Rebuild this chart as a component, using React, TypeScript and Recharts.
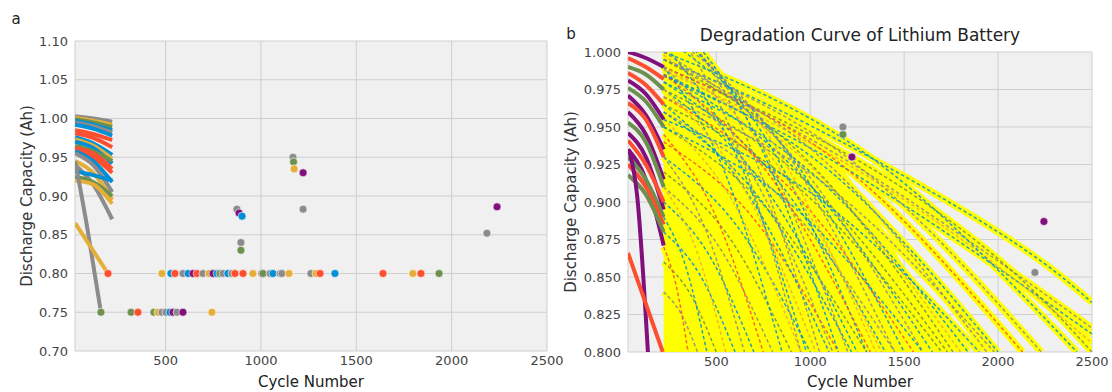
import { ComposedChart, Line, Scatter, Area, XAxis, YAxis, CartesianGrid } from 'recharts';

const COLORS: Record<string, string> = {
  b: '#008fd5',
  r: '#fc4f30',
  y: '#e5ae38',
  g: '#6d904f',
  k: '#8b8b8b',
  p: '#810f7c',
};

// ---- panel a: measured capacity over the first cycles ----
const earlyCyclesA = [26, 120, 220];
const earlyCapacityA = [
  [1.003, 1.0, 0.996],
  [1.001, 0.997, 0.992],
  [0.999, 0.995, 0.989],
  [0.997, 0.992, 0.985],
  [0.995, 0.99, 0.982],
  [0.992, 0.987, 0.978],
  [0.985, 0.98, 0.972],
  [0.981, 0.975, 0.963],
  [0.976, 0.968, 0.953],
  [0.973, 0.965, 0.948],
  [0.97, 0.962, 0.942],
  [0.965, 0.958, 0.945],
  [0.962, 0.955, 0.935],
  [0.958, 0.95, 0.93],
  [0.958, 0.945, 0.918],
  [0.955, 0.94, 0.905],
  [0.945, 0.93, 0.895],
  [0.94, 0.915, 0.87],
  [0.925, 0.918, 0.9],
  [0.92, 0.915, 0.89],
  [0.932, 0.927, 0.92],
];
const earlyColorsA = ['k', 'y', 'g', 'b', 'k', 'b', 'r', 'r', 'b', 'y', 'b', 'g', 'r', 'r', 'b', 'k', 'y', 'k', 'g', 'y', 'b'];

const steepCyclesA = [26, 90, 161];
const steepCapacityA = [0.945, 0.858, 0.75];
const slowCyclesA = [26, 198];
const slowCapacityA = [0.865, 0.8];

// end-of-life points
const eolCyclesA = [
  161, 319, 355, 439, 460, 481, 502, 523, 539, 560, 591, 743,
  198, 481, 528, 549, 591, 618, 644, 665, 696, 728, 749, 770, 785, 801, 827, 848, 864, 906, 958, 1006, 1011, 1048,
  1063, 1100, 1110, 1147, 1262, 1289, 1310, 1388, 1640, 1797, 1839, 1934,
  874, 885, 901, 895, 895, 1168, 1171, 1174, 1221, 1221, 2185, 2238,
];
const eolCapacityA = [
  0.75, 0.75, 0.75, 0.75, 0.75, 0.75, 0.75, 0.75, 0.75, 0.75, 0.75, 0.75,
  0.8, 0.8, 0.8, 0.8, 0.8, 0.8, 0.8, 0.8, 0.8, 0.8, 0.8, 0.8, 0.8, 0.8, 0.8, 0.8, 0.8, 0.8, 0.8, 0.8, 0.8, 0.8,
  0.8, 0.8, 0.8, 0.8, 0.8, 0.8, 0.8, 0.8, 0.8, 0.8, 0.8, 0.8,
  0.883, 0.878, 0.874, 0.84, 0.83, 0.95, 0.944, 0.935, 0.93, 0.883, 0.852, 0.886,
];
const eolColorsA = [
  'g', 'g', 'r', 'g', 'y', 'k', 'k', 'b', 'p', 'k', 'p', 'y',
  'r', 'y', 'b', 'r', 'k', 'b', 'p', 'r', 'k', 'y', 'p', 'b', 'g', 'k', 'b', 'k', 'r', 'r', 'y', 'p', 'g', 'k',
  'b', 'k', 'k', 'y', 'k', 'y', 'r', 'b', 'r', 'y', 'r', 'g',
  'k', 'p', 'b', 'k', 'g', 'k', 'g', 'y', 'p', 'k', 'k', 'p',
];

// ---- panel b: measured early cycles + fitted degradation curves ----
const earlyCyclesB = [30, 125, 220];
const earlyCapacityB = [
  [1.0, 0.996, 0.99],
  [0.996, 0.99, 0.982],
  [0.99, 0.985, 0.975],
  [0.986, 0.978, 0.965],
  [0.981, 0.972, 0.955],
  [0.976, 0.967, 0.95],
  [0.971, 0.958, 0.935],
  [0.966, 0.955, 0.93],
  [0.96, 0.945, 0.915],
  [0.953, 0.94, 0.91],
  [0.946, 0.93, 0.895],
  [0.941, 0.925, 0.9],
  [0.935, 0.915, 0.871],
  [0.93, 0.915, 0.89],
  [0.925, 0.91, 0.885],
  [0.918, 0.905, 0.88],
];
const earlyColorsB = ['p', 'r', 'g', 'r', 'p', 'g', 'p', 'r', 'p', 'g', 'p', 'r', 'p', 'g', 'r', 'g'];

const steepCyclesB = [35, 78, 136];
const steepCapacityB = [0.935, 0.905, 0.8];
const slowCyclesB = [30, 215];
const slowCapacityB = [0.866, 0.8];

const coreEnvelope = [
  [220, 1.06], [400, 1.03], [440, 0.998], [480, 0.985], [580, 0.973], [740, 0.962],
  [980, 0.945], [1150, 0.925], [1300, 0.9], [1450, 0.868], [1600, 0.83], [1700, 0.8],
];

const fitCurves = [
  [[220, 0.995], [1000, 0.951], [2000, 0.88], [2500, 0.833]],
  [[220, 0.99], [1000, 0.942], [1800, 0.878], [2500, 0.816]],
  [[220, 0.984], [1000, 0.936], [1800, 0.873], [2500, 0.812]],
  [[220, 0.988], [1200, 0.925], [2000, 0.857], [2500, 0.806]],
  [[220, 0.99], [1222, 0.93], [2010, 0.861], [2500, 0.8]],
  [[220, 1.0], [1320, 0.93], [2420, 0.8]],
  [[220, 0.995], [1225, 0.927], [2230, 0.8]],
  [[220, 0.99], [1175, 0.924], [2130, 0.8]],
  [[220, 0.985], [1110, 0.92], [2000, 0.8]],
  [[220, 0.995], [1080, 0.927], [1940, 0.8]],
  [[220, 0.98], [1030, 0.917], [1840, 0.8]],
  [[220, 0.99], [1010, 0.923], [1800, 0.8]],
  [[220, 0.975], [975, 0.914], [1730, 0.8]],
  [[220, 0.985], [935, 0.92], [1650, 0.8]],
  [[220, 1.0], [910, 0.93], [1600, 0.8]],
  [[220, 0.97], [885, 0.91], [1550, 0.8]],
  [[220, 1.01], [860, 0.937], [1500, 0.8]],
  [[220, 0.96], [835, 0.904], [1450, 0.8]],
  [[220, 0.98], [810, 0.917], [1400, 0.8]],
  [[220, 1.02], [785, 0.943], [1350, 0.8]],
  [[220, 0.95], [760, 0.897], [1300, 0.8]],
  [[220, 0.975], [735, 0.914], [1250, 0.8]],
  [[220, 1.025], [710, 0.945], [1200, 0.8]],
  [[220, 0.94], [685, 0.891], [1150, 0.8]],
  [[220, 0.965], [660, 0.907], [1100, 0.8]],
  [[220, 1.03], [635, 0.95], [1050, 0.8]],
  [[220, 0.93], [610, 0.884], [1000, 0.8]],
  [[220, 0.955], [585, 0.901], [950, 0.8]],
  [[220, 0.92], [560, 0.878], [900, 0.8]],
  [[220, 0.99], [535, 0.923], [850, 0.8]],
  [[220, 0.91], [510, 0.871], [800, 0.8]],
  [[220, 0.945], [485, 0.894], [750, 0.8]],
  [[220, 0.9], [460, 0.865], [700, 0.8]],
  [[220, 0.93], [435, 0.884], [650, 0.8]],
  [[220, 0.88], [410, 0.852], [600, 0.8]],
  [[220, 0.91], [385, 0.871], [550, 0.8]],
  [[220, 0.86], [360, 0.839], [500, 0.8]],
  [[220, 0.89], [335, 0.858], [450, 0.8]],
  [[220, 0.84], [310, 0.826], [400, 0.8]],
  [[220, 0.87], [285, 0.845], [350, 0.8]],
  [[220, 1.03], [685, 0.95], [1150, 0.8]],
  [[220, 1.025], [585, 0.946], [950, 0.8]],
  [[220, 1.02], [760, 0.943], [1300, 0.8]],
  [[220, 0.998], [800, 0.929], [1380, 0.8]],
  [[220, 0.965], [960, 0.907], [1700, 0.8]],
  [[220, 0.955], [1060, 0.901], [1900, 0.8]],
  [[220, 0.97], [1100, 0.91], [1980, 0.8]],
  [[220, 0.985], [770, 0.92], [1320, 0.8]],
  [[220, 0.96], [720, 0.904], [1220, 0.8]],
  [[220, 0.99], [670, 0.923], [1120, 0.8]],
  [[220, 1.005], [600, 0.933], [980, 0.8]],
  [[220, 0.975], [625, 0.914], [1030, 0.8]],
  [[220, 0.995], [990, 0.927], [1760, 0.8]],
  [[220, 0.95], [910, 0.897], [1600, 0.8]],
  [[220, 1.015], [835, 0.94], [1450, 0.8]],
];
const fitDashColors = ['b', 'k', 'b', 'y', 'g', 'b', 'k', 'r'];

const eolCyclesB = [1174, 1174, 1222, 2244, 2196];
const eolCapacityB = [0.95, 0.945, 0.93, 0.887, 0.853];
const eolColorsB = ['k', 'g', 'p', 'p', 'k'];

const xTicks = [500, 1000, 1500, 2000, 2500];
const yTicksA = [0.7, 0.75, 0.8, 0.85, 0.9, 0.95, 1.0, 1.05, 1.1];
const yTicksB = [0.8, 0.825, 0.85, 0.875, 0.9, 0.925, 0.95, 0.975, 1.0];

const FONT = 'DejaVu Sans';
const tickStyle = { fontSize: 13, fill: '#444', fontFamily: FONT };

const zip = (xs: number[], ys: number[]) => xs.map((x, i) => ({ x, y: ys[i] }));
const pairs = (pts: number[][]) => pts.map(([x, y]) => ({ x, y }));

const Dot = (props: any) => (
  <circle cx={props.cx} cy={props.cy} r={4} fill={COLORS[props.payload.c]} stroke="#ffffff" strokeWidth={0.6} />
);

const VLabel = ({ x, y, text }: { x: number; y: number; text: string }) => (
  <div
    style={{
      position: 'absolute', left: x, top: y, transform: 'translate(-50%, -50%) rotate(-90deg)',
      whiteSpace: 'nowrap', fontSize: 15, color: '#333', fontFamily: FONT,
    }}
  >
    {text}
  </div>
);

const TextAt = ({ x, y, text, size }: { x: number; y: number; text: string; size: number }) => (
  <div
    style={{
      position: 'absolute', left: x, top: y, transform: 'translate(-50%, -50%)',
      whiteSpace: 'nowrap', fontSize: size, color: '#222', fontFamily: FONT,
    }}
  >
    {text}
  </div>
);

function PanelA() {
  const eol = eolCyclesA.map((x, i) => ({ x, y: eolCapacityA[i], c: eolColorsA[i] }));
  return (
    <ComposedChart width={580} height={392} margin={{ top: 41, right: 33, bottom: 11, left: 25 }}>
      <CartesianGrid fill="#f0f0f0" stroke="#cfcfcf" strokeWidth={1} />
      <XAxis type="number" dataKey="x" domain={[25, 2500]} ticks={xTicks} allowDataOverflow
        axisLine={false} tickLine={false} tickSize={0} tickMargin={5} height={30} tick={tickStyle} interval={0} />
      <YAxis type="number" domain={[0.7, 1.1]} ticks={yTicksA} allowDataOverflow width={50}
        axisLine={false} tickLine={false} tickSize={0} tickMargin={7} tick={tickStyle} interval={0}
        tickFormatter={(v: number) => v.toFixed(2)} />
      {earlyCapacityA.map((row, i) => (
        <Line key={`ea${i}`} data={zip(earlyCyclesA, row)} dataKey="y" type="monotone" stroke={COLORS[earlyColorsA[i]]}
          strokeWidth={4} dot={false} activeDot={false} isAnimationActive={false} />
      ))}
      <Line data={zip(steepCyclesA, steepCapacityA)} dataKey="y" type="monotone" stroke={COLORS.k}
        strokeWidth={4} dot={false} activeDot={false} isAnimationActive={false} />
      <Line data={zip(slowCyclesA, slowCapacityA)} dataKey="y" type="linear" stroke={COLORS.y}
        strokeWidth={4} dot={false} activeDot={false} isAnimationActive={false} />
      <Scatter data={eol} dataKey="y" shape={Dot} isAnimationActive={false} />
    </ComposedChart>
  );
}

function PanelB() {
  const eol = eolCyclesB.map((x, i) => ({ x, y: eolCapacityB[i], c: eolColorsB[i] }));
  return (
    <ComposedChart width={552} height={392} data={pairs(coreEnvelope)} margin={{ top: 52, right: 20, bottom: 10, left: 13 }}>
      <CartesianGrid fill="#f0f0f0" stroke="#cfcfcf" strokeWidth={1} />
      <XAxis type="number" dataKey="x" domain={[30, 2500]} ticks={xTicks} allowDataOverflow
        axisLine={false} tickLine={false} tickSize={0} tickMargin={5} height={30} tick={tickStyle} interval={0} />
      <YAxis type="number" domain={[0.8, 1.0]} ticks={yTicksB} allowDataOverflow width={55}
        axisLine={false} tickLine={false} tickSize={0} tickMargin={7} tick={tickStyle} interval={0}
        tickFormatter={(v: number) => v.toFixed(3)} />
      <Area dataKey="y" type="monotone" fill="#ffff00" fillOpacity={1} stroke="none" isAnimationActive={false} activeDot={false} />
      {fitCurves.map((c, i) => (
        <Line key={`fy${i}`} data={pairs(c)} dataKey="y" type="natural" stroke="#ffff00"
          strokeWidth={7} dot={false} activeDot={false} isAnimationActive={false} />
      ))}
      {fitCurves.map((c, i) => (
        <Line key={`fd${i}`} data={pairs(c)} dataKey="y" type="natural" stroke={COLORS[fitDashColors[i % fitDashColors.length]]}
          strokeWidth={1.5} strokeDasharray="3.5 2.5" strokeOpacity={0.85} dot={false} activeDot={false} isAnimationActive={false} />
      ))}
      {earlyCapacityB.map((row, i) => (
        <Line key={`eb${i}`} data={zip(earlyCyclesB, row)} dataKey="y" type="monotone" stroke={COLORS[earlyColorsB[i]]}
          strokeWidth={4} dot={false} activeDot={false} isAnimationActive={false} />
      ))}
      <Line data={zip(steepCyclesB, steepCapacityB)} dataKey="y" type="monotone" stroke={COLORS.p}
        strokeWidth={4} dot={false} activeDot={false} isAnimationActive={false} />
      <Line data={zip(slowCyclesB, slowCapacityB)} dataKey="y" type="linear" stroke={COLORS.r}
        strokeWidth={4} dot={false} activeDot={false} isAnimationActive={false} />
      <Scatter data={eol} dataKey="y" shape={Dot} isAnimationActive={false} />
    </ComposedChart>
  );
}

export default function App() {
  return (
    <div style={{ position: 'absolute', left: 0, top: 0, width: 1112, height: 392, background: '#fff', overflow: 'hidden' }}>
      <div style={{ position: 'absolute', left: 0, top: 0 }}>
        <PanelA />
      </div>
      <div style={{ position: 'absolute', left: 560, top: 0 }}>
        <PanelB />
      </div>
      <TextAt x={16} y={19} text="a" size={15} />
      <TextAt x={571} y={34} text="b" size={15} />
      <TextAt x={860} y={35} text="Degradation Curve of Lithium Battery" size={17} />
      <VLabel x={27} y={196} text="Discharge Capacity (Ah)" />
      <VLabel x={571} y={202} text="Discharge Capacity (Ah)" />
      <TextAt x={311} y={382} text="Cycle Number" size={15} />
      <TextAt x={860} y={382} text="Cycle Number" size={15} />
    </div>
  );
}
